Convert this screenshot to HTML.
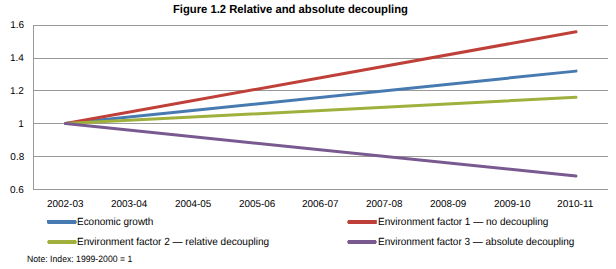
<!DOCTYPE html>
<html><head><meta charset="utf-8"><style>
html,body{margin:0;padding:0;background:#fff;width:616px;height:269px;overflow:hidden}
.t{position:absolute;white-space:nowrap;line-height:1;font-family:"Liberation Sans",sans-serif;color:#000;transform-origin:0 0;text-rendering:geometricPrecision}
</style></head><body>
<svg width="616" height="269" style="position:absolute;left:0;top:0"><line x1="33" y1="25.5" x2="608" y2="25.5" stroke="#999999" stroke-width="1"/><line x1="33" y1="58.5" x2="608" y2="58.5" stroke="#999999" stroke-width="1"/><line x1="33" y1="90.5" x2="608" y2="90.5" stroke="#999999" stroke-width="1"/><line x1="33" y1="123.5" x2="608" y2="123.5" stroke="#999999" stroke-width="1"/><line x1="33" y1="156.5" x2="608" y2="156.5" stroke="#999999" stroke-width="1"/><line x1="33" y1="189.5" x2="608" y2="189.5" stroke="#999999" stroke-width="1"/><line x1="33.5" y1="25" x2="33.5" y2="190" stroke="#999999" stroke-width="1"/><line x1="65.60" y1="123.60" x2="576.00" y2="71.12" stroke="#467AB0" stroke-width="3" stroke-linecap="round"/><line x1="65.60" y1="123.60" x2="576.00" y2="31.76" stroke="#BE4038" stroke-width="3" stroke-linecap="round"/><line x1="65.60" y1="123.60" x2="576.00" y2="97.36" stroke="#A0B03C" stroke-width="3" stroke-linecap="round"/><line x1="65.60" y1="123.60" x2="576.00" y2="176.08" stroke="#785A91" stroke-width="3" stroke-linecap="round"/><polygon points="47,220 75.8,220 77,222 75.8,224 48,224 47,223" fill="#467AB0"/><polygon points="348.2,220 376.8,220 376.8,224 348.2,224 347,222" fill="#BE4038"/><polygon points="47,242 48.2,240 75.8,240 77,242 75.8,244 48.2,244" fill="#A0B03C"/><polygon points="347,242 348.2,240 375.8,240 377,242 375.8,244 348.2,244" fill="#785A91"/></svg>
<div class="t" style="left:173.46px;top:4.00px;font-size:11.7px;font-weight:bold;transform:translateY(0px) scaleX(0.9618);">Figure 1.2 Relative and absolute decoupling</div><div class="t" style="left:10.24px;top:21.00px;font-size:10.0px;transform:translateY(0px) scaleX(1.0000);">1.6</div><div class="t" style="left:9.96px;top:54.00px;font-size:10.0px;transform:translateY(0px) scaleX(1.0000);">1.4</div><div class="t" style="left:9.98px;top:87.00px;font-size:10.0px;transform:translateY(0px) scaleX(1.0000);">1.2</div><div class="t" style="left:18.19px;top:120.00px;font-size:10.0px;transform:translateY(0px) scaleX(1.0000);">1</div><div class="t" style="left:10.35px;top:153.00px;font-size:10.0px;transform:translateY(0px) scaleX(1.0000);">0.8</div><div class="t" style="left:10.04px;top:186.00px;font-size:10.0px;transform:translateY(0px) scaleX(1.0000);">0.6</div><div class="t" style="left:47.40px;top:200.00px;font-size:10.0px;transform:translateY(0px) scaleX(0.9923);">2002-03</div><div class="t" style="left:111.15px;top:200.00px;font-size:10.0px;transform:translateY(0px) scaleX(0.9906);">2003-04</div><div class="t" style="left:174.90px;top:200.00px;font-size:10.0px;transform:translateY(0px) scaleX(0.9896);">2004-05</div><div class="t" style="left:238.65px;top:200.00px;font-size:10.0px;transform:translateY(0px) scaleX(0.9899);">2005-06</div><div class="t" style="left:302.40px;top:200.00px;font-size:10.0px;transform:translateY(0px) scaleX(0.9949);">2006-07</div><div class="t" style="left:366.15px;top:200.00px;font-size:10.0px;transform:translateY(0px) scaleX(0.9932);">2007-08</div><div class="t" style="left:429.90px;top:200.00px;font-size:10.0px;transform:translateY(0px) scaleX(0.9879);">2008-09</div><div class="t" style="left:493.65px;top:200.00px;font-size:10.0px;transform:translateY(0px) scaleX(0.9917);">2009-10</div><div class="t" style="left:557.38px;top:200.00px;font-size:10.0px;transform:translateY(0px) scaleX(1.0157);">2010-11</div><div class="t" style="left:76.98px;top:218.00px;font-size:10.4px;transform:translateY(0px) scaleX(0.9583);">Economic growth</div><div class="t" style="left:377.57px;top:218.00px;font-size:10.4px;transform:translateY(0px) scaleX(0.9642);">Environment factor 1 — no decoupling</div><div class="t" style="left:76.77px;top:238.00px;font-size:10.4px;transform:translateY(0px) scaleX(0.9672);">Environment factor 2 — relative decoupling</div><div class="t" style="left:377.58px;top:238.00px;font-size:10.4px;transform:translateY(0px) scaleX(0.9602);">Environment factor 3 — absolute decoupling</div><div class="t" style="left:26.99px;top:255.00px;font-size:9.2px;transform:translateY(0px) scaleX(0.9427);">Note: Index: 1999-2000 = 1</div>
</body></html>
